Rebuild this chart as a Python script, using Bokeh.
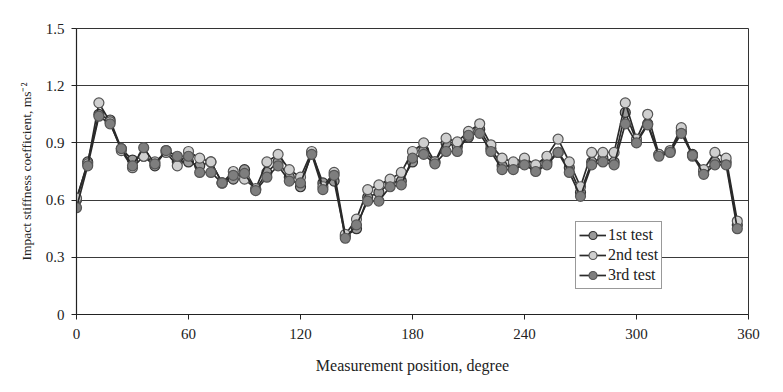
from bokeh.plotting import figure
from bokeh.models import Range1d, FixedTicker, Legend, LegendItem, ColumnDataSource
from bokeh.embed import file_html
from bokeh.resources import INLINE

positions = list(range(0, 360, 6))
test1 = [0.60, 0.80, 1.05, 1.02, 0.87, 0.81, 0.83, 0.78, 0.86, 0.80,
         0.80, 0.78, 0.80, 0.69, 0.71, 0.76, 0.655, 0.745, 0.80, 0.72,
         0.67, 0.85, 0.69, 0.70, 0.41, 0.45, 0.615, 0.64, 0.69, 0.70,
         0.80, 0.86, 0.80, 0.90, 0.88, 0.93, 0.97, 0.87, 0.78, 0.78,
         0.80, 0.76, 0.80, 0.85, 0.77, 0.64, 0.80, 0.82, 0.80, 1.06,
         0.91, 1.00, 0.84, 0.855, 0.96, 0.84, 0.75, 0.80, 0.80, 0.47]
test2 = [0.61, 0.79, 1.11, 1.01, 0.86, 0.77, 0.83, 0.80, 0.85, 0.78,
         0.855, 0.82, 0.80, 0.69, 0.75, 0.71, 0.66, 0.80, 0.84, 0.76,
         0.72, 0.855, 0.67, 0.745, 0.42, 0.50, 0.655, 0.68, 0.71, 0.745,
         0.855, 0.90, 0.80, 0.925, 0.905, 0.96, 1.00, 0.89, 0.82, 0.80,
         0.82, 0.785, 0.83, 0.92, 0.80, 0.67, 0.85, 0.85, 0.85, 1.11,
         0.92, 1.05, 0.84, 0.86, 0.98, 0.83, 0.76, 0.85, 0.82, 0.49]
test3 = [0.56, 0.78, 1.04, 1.00, 0.87, 0.78, 0.875, 0.79, 0.86, 0.83,
         0.83, 0.745, 0.745, 0.69, 0.73, 0.74, 0.65, 0.72, 0.78, 0.70,
         0.69, 0.84, 0.655, 0.73, 0.40, 0.47, 0.595, 0.595, 0.67, 0.68,
         0.82, 0.84, 0.79, 0.855, 0.855, 0.94, 0.95, 0.855, 0.76, 0.76,
         0.785, 0.75, 0.785, 0.85, 0.745, 0.62, 0.785, 0.80, 0.785, 1.00,
         0.90, 0.995, 0.83, 0.85, 0.95, 0.835, 0.735, 0.785, 0.785, 0.45]
series_names = ["1st test", "2nd test", "3rd test"]
x_ticks = [0, 60, 120, 180, 240, 300, 360]
y_ticks = [0, 0.3, 0.6, 0.9, 1.2, 1.5]

FONT = "Liberation Serif"

p = figure(width=767, height=376, output_backend="svg", toolbar_location=None,
           x_range=Range1d(0, 360), y_range=Range1d(0, 1.5),
           min_border_left=76, min_border_right=19, min_border_top=28, min_border_bottom=60)
p.styles = {"outline": "1px solid #333", "outline-offset": "-4px"}

p.background_fill_color = "white"
p.border_fill_color = "white"
p.outline_line_color = "#333333"
p.outline_line_width = 1

p.xgrid.grid_line_color = None
p.ygrid.grid_line_color = "#3a3a3a"
p.ygrid.grid_line_width = 1
p.ygrid.ticker = FixedTicker(ticks=y_ticks)

p.xaxis.ticker = FixedTicker(ticks=x_ticks)
p.yaxis.ticker = FixedTicker(ticks=y_ticks)
p.yaxis.major_label_overrides = {0: "0", 0.3: "0.3", 0.6: "0.6", 0.9: "0.9", 1.2: "1.2", 1.5: "1.5"}
for ax in (p.xaxis[0], p.yaxis[0]):
    ax.axis_line_color = "#222222"
    ax.axis_line_width = 1.2
    ax.major_tick_line_color = "#222222"
    ax.major_tick_in = 0
    ax.major_tick_out = 5
    ax.minor_tick_line_color = None
    ax.major_label_text_font = FONT
    ax.major_label_text_font_size = "15px"
    ax.major_label_text_color = "#222222"
    ax.axis_label_text_font = FONT
    ax.axis_label_text_font_style = "normal"
    ax.axis_label_text_color = "#222222"

p.xaxis.axis_label = "Measurement position, degree"
p.xaxis.axis_label_text_font_size = "16px"
p.xaxis.major_label_standoff = 9
p.xaxis.axis_label_standoff = 15
p.yaxis.axis_label = "Impact stiffness coefficient, ms⁻²"
p.yaxis.axis_label_text_font_size = "13.5px"
p.yaxis.major_label_standoff = 7
p.yaxis.axis_label_standoff = 9

fills = ["#9a9a9a", "#cfcfcf", "#7e7e7e"]
outlines = ["#333333", "#555555", "#555555"]
items = []
for name, vals, fc, oc in zip(series_names, [test1, test2, test3], fills, outlines):
    src = ColumnDataSource(dict(x=positions, y=vals))
    r1 = p.line("x", "y", source=src, line_color="#2a2a2a", line_width=1.7)
    r2 = p.scatter("x", "y", source=src, size=10, marker="circle",
                   fill_color=fc, line_color=oc, line_width=1.2)
    items.append(LegendItem(label=name, renderers=[r1, r2]))

legend = Legend(items=items, location=(499, 25))
legend.label_text_font = FONT
legend.label_text_font_size = "16px"
legend.label_text_color = "#222222"
legend.border_line_color = "#333333"
legend.border_line_width = 1
legend.background_fill_color = "white"
legend.background_fill_alpha = 1
legend.glyph_width = 27
legend.glyph_height = 20
legend.label_standoff = 2
legend.label_height = 20
legend.spacing = 0
legend.padding = 3
legend.margin = 0
p.add_layout(legend, "center")

open("out.html", "w").write(file_html(p, INLINE))
